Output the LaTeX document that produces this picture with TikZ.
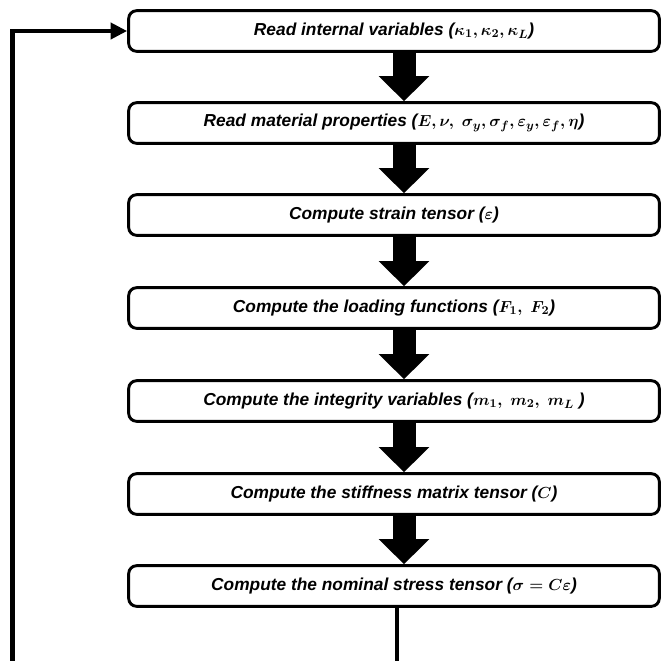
\documentclass[tikz,border=0pt]{standalone}
\usepackage{fontspec}
\setmainfont{Liberation Sans}
\usepackage{amsmath}
\usetikzlibrary{arrows.meta}
\begin{document}
\begin{tikzpicture}[x=0.75pt,y=-0.75pt,
  procbox/.style={draw, line width=2.2pt, rounded corners=6pt, minimum width=398pt,
    minimum height=30.5pt, inner sep=0pt,
    font=\fontsize{13}{15}\selectfont\bfseries\itshape\boldmath},
  bigarrow/.style={line width=17.25pt, -{Triangle[width=36.75pt,length=18.75pt]}},
  loopline/.style={line width=3.4pt, line join=miter, -{Triangle[width=12pt,length=12.5pt]}},
]
\useasboundingbox (0,0) rectangle (662,661);
\clip (0,0) rectangle (662,661);
\coordinate (ax) at (404,0);
\coordinate (lx) at (397,0);
\coordinate (rx) at (12.5,0);
\node[procbox] (b1) at (394,31) {Read internal variables ($\kappa_1, \kappa_2, \kappa_L$)};
\node[procbox] (b2) at (394,123) {Read material properties ($E, \nu,\ \sigma_y, \sigma_f, \varepsilon_y, \varepsilon_f, \eta$)};
\node[procbox] (b3) at (394,215) {Compute strain tensor ($\varepsilon$)};
\node[procbox] (b4) at (394,308) {Compute the loading functions ($F_1,\ F_2$)};
\node[procbox] (b5) at (394,401) {Compute the integrity variables ($m_1,\ m_2,\ m_L$ )};
\node[procbox] (b6) at (394,494) {Compute the stiffness matrix tensor ($C$)};
\node[procbox] (b7) at (394,586) {Compute the nominal stress tensor ($\sigma = C\varepsilon$)};
\draw[bigarrow] (b1.south -| ax) -- (b2.north -| ax);
\draw[bigarrow] (b2.south -| ax) -- (b3.north -| ax);
\draw[bigarrow] (b3.south -| ax) -- (b4.north -| ax);
\draw[bigarrow] (b4.south -| ax) -- (b5.north -| ax);
\draw[bigarrow] (b5.south -| ax) -- (b6.north -| ax);
\draw[bigarrow] (b6.south -| ax) -- (b7.north -| ax);
\coordinate (c1) at (397,690);
\coordinate (c2) at (12.5,690);
\draw[loopline] (b7.south -| lx) -- (c1) -- (c2) -- (b1.west -| rx) -- (b1.west);
\end{tikzpicture}
\end{document}
